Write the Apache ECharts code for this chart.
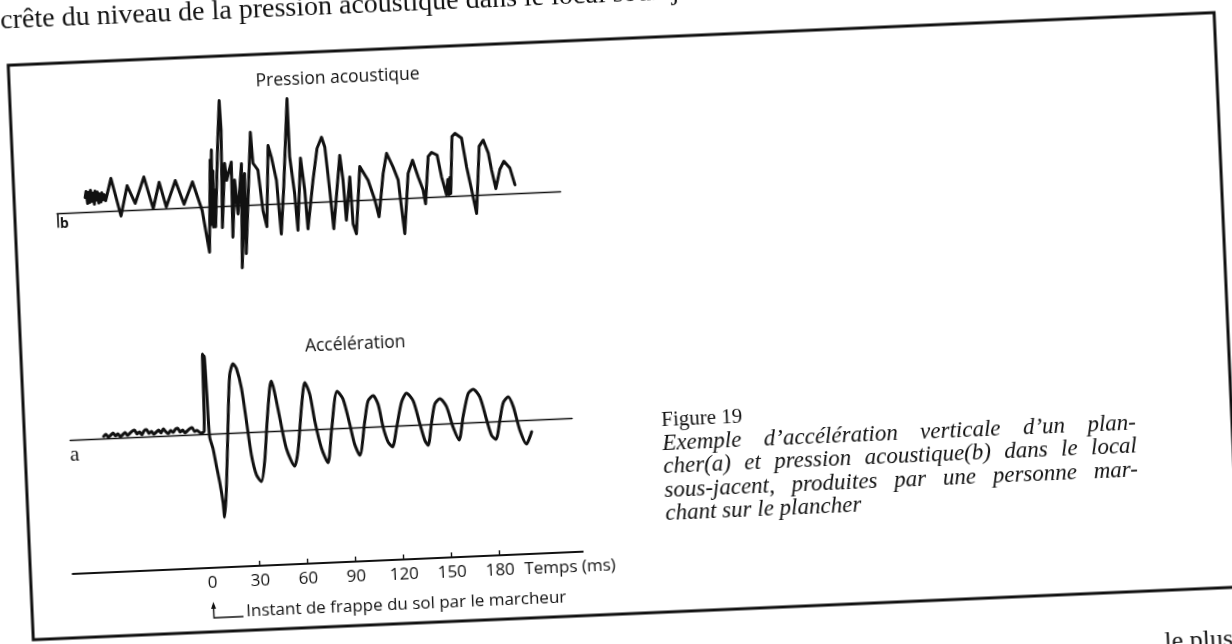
<!DOCTYPE html>
<html lang="fr">
<head>
<meta charset="utf-8">
<title>Figure 19</title>
<script src="https://cdn.jsdelivr.net/npm/echarts@6/dist/echarts.min.js"></script>
<style>
html,body{margin:0;padding:0;background:#fff;overflow:hidden;width:1232px;height:644px;}
#page{position:absolute;left:-100px;top:-80px;width:1432px;height:804px;transform-origin:716px 402px;transform:rotate(-2.5deg);}
</style>
</head>
<body>
<div id="page"></div>
<script>
// ---------- data ----------
// time in ms (0 = heel strike), amplitude in arbitrary units relative to each trace's baseline
const tickLabels = [0, 30, 60, 90, 120, 150, 180];
const tickMarks = [30, 60, 90, 120, 150, 180];

const pressureTime = [-69.0,-68.3,-67.6,-66.9,-66.2,-65.5,-64.8,-64.1,-63.4,-62.7,-62.0,-61.3,-60.6,-59.9,-59.2,-58.5,-57.8,-57.1,-56.3,
 -52.4,-47.1,-42.5,-37.9,-31.8,-26.8,-22.4,-18.6,-12.3,-7.4,-1.6,3.7,7.2,
 10.0,8.6,11.1,9.8,11.5,10.4,12.0,11.7,
 15.3,17.3,18.1,17.7,15.9,
 19.0,19.8,23.2,22.2,
 24.8,26.0,29.5,27.2,
 31.2,30.1,35.9,
 36.7,39.6,41.7,43.7,
 46.6,48.4,50.9,52.5,
 55.3,59.7,59.8,61.9,63.0,
 66.5,68.3,69.3,
 73.7,77.1,80.2,82.0,83.9,85.4,
 91.1,92.5,93.5,96.8,97.6,99.4,
 103.3,108.1,111.8,114.0,
 117.7,120.4,124.1,126.9,129.6,
 133.3,136.4,139.5,142.2,143.4,
 146.3,148.5,151.9,154.1,156.7,157.9,158.2,159.2,159.4,
 161.7,163.6,167.6,170.0,172.5,175.0,
 178.4,181.1,183.9,185.5,187.7,
 190.7,193.4,197.0,199.7];
const pressureValue = [15,21,9,20,10,22,11,19,8,21,12,20,9,18,10,19,12,17,11,
 33,-5,25,7,33,1,27,2,28,4,26,-3,-45,
 47,-18,57,-8,36,-20,17,-20,
 66,106,108,76,-21,
 43,26,44,-31,
 26,-8,42,-62,
 32,-48,73,
 42,35,-6,-22,
 59,47,24,-30,
 17,105,47,10,-27,
 45,13,-26,
 22,54,65,55,12,-27,
 46,21,-19,24,-23,-33,
 34,20,0,-17,
 26,46,32,19,-35,
 25,38,21,8,-6,
 41,45,42,20,2,17,2,19,3,
 60,63,58,29,6,-18,
 49,55,42,25,6,
 25,33,26,9];

const accelTime = [-64,-62.5,-61,-59.5,-58,-56.5,-55,-53.5,-52,-50.5,-49,-47.5,-46,-44.5,-43,-41.5,-40,-38.5,-37,-35.5,-34,-32.5,-31,-29.5,-28,-26.5,-25,-23.5,-22,-20.5,-19,-17.5,-16,-14.5,-13,-11.5,-10,-8.5,-7,-5.5,-4,-2.9,
 -1.0,0.0,0.6,1.0,1.6,2.2,
 4.0,5.6,7.3,8.8,9.4,11.3,
 14.1,16.4,18.8,20.8,23.4,25.6,27.8,30.4,33.3,35.9,
 38.5,41.0,42.3,44.0,46.5,49.8,54.5,57.0,60.3,63.1,
 65.9,68.3,71.7,75.4,78.4,83.0,86.5,90.1,92.6,95.5,
 99.5,102.1,105.4,108.3,110.8,113.5,116.1,119.2,122.9,126.3,
 130.3,133.8,136.5,138.4,141.1,143.7,147.0,150.9,154.5,157.9,
 161.0,164.8,168.0,172.0,175.6,178.3,180.9,183.9,186.4,189.7,
 192.6,196.1,199.9,202.2,203.4];
const accelValue = [2,4,1,3,5,2,4,1,3,5,2,4,6,7,3,5,2,6,7,3,5,2,4,6,3,7,4,2,5,3,6,7,3,5,2,4,6,7,3,4,2,1,
 3,80,62,78,40,-3,
 -15,-32,-49,-69,-84,-55,
 11,58,69,64,44,11,-23,-43,-50,-30,
 10,43,50,38,13,-18,-36,-21,22,47,
 35,8,-19,-34,-3,37,29,3,-17,-28,
 6,26,31,22,-1,-16,-21,-2,23,32,
 24,1,-16,-21,1,20,25,17,-4,-17,
 6,29,33,25,2,-14,-18,1,18,24,
 14,-10,-24,-17,-12];

const headLine = 'crête du niveau de la pression acoustique dans le local sous-jacent';
const titlePressure = 'Pression acoustique';
const titleAccel = 'Accélération';
const labelPressure = 'b';
const labelAccel = 'a';
const axisName = 'Temps (ms)';
const strikeNote = 'Instant de frappe du sol par le marcheur';
const captionTitle = 'Figure 19';
const captionLines = [
  'Exemple d’accélération verticale d’un plan-',
  'cher(a) et pression acoustique(b) dans le local',
  'sous-jacent, produites par une personne mar-',
  'chant sur le plancher'
];
const footLine = 'le plus';

// ---------- layout ----------
const INK = '#111';
const OX = 100, OY = 80;          // page offset inside the (rotated) sheet
const MS = 1.6;                   // px per ms
const ZERO_U = 201.5;             // horizontal position of t = 0
const tx = t => OX + ZERO_U + MS * t;

const P_RANGE = [-87, 228], A_RANGE = [-85, 229], T_RANGE = [-87, 232];
const P_Y = [-80, 120], A_Y = [-100, 100];
const P_BASE = 189.5, A_BASE = 416, T_LINE = 550;

function grid(tr, yr, base) {
  return { left: tx(tr[0]), width: MS * (tr[1] - tr[0]), top: OY + base - yr[1], height: yr[1] - yr[0],
           containLabel: false, outerBoundsMode: 'none' };
}
const zip = (a, b) => a.slice(0, Math.min(a.length, b.length)).map((v, i) => [v, b[i]]);

const SANS = 'Open Sans', SERIF = 'Liberation Serif';

const chart = echarts.init(document.getElementById('page'), null, { renderer: 'canvas' });

const hiddenX = (idx, r) => ({
  type: 'value', gridIndex: idx, min: r[0], max: r[1],
  axisLine: { show: true, onZero: true, lineStyle: { color: INK, width: 1.4 } },
  axisTick: { show: false }, axisLabel: { show: false }, splitLine: { show: false }
});

// graphic elements (frame and texts)
const g = [];
g.push({ type: 'rect', shape: { x: OX + 20, y: OY + 39, width: 1207, height: 575 },
         style: { fill: 'none', stroke: INK, lineWidth: 3 }, silent: true });
g.push({ type: 'text', x: OX + 14, y: OY + 4.5, rotation: 0,
         style: { text: headLine, x: 0, y: -9.5, fontFamily: SERIF, fontSize: 28, fill: INK, verticalAlign: 'middle' } });
g.push({ type: 'text', x: OX + 348.6, y: OY + 66,
         style: { text: titlePressure, fontFamily: SANS, fontSize: 17.5, fill: INK, align: 'center', verticalAlign: 'middle' } });
g.push({ type: 'text', x: OX + 354.5, y: OY + 332.6,
         style: { text: titleAccel, fontFamily: SANS, fontSize: 17.5, fill: INK, align: 'center', verticalAlign: 'middle' } });
g.push({ type: 'text', x: tx(P_RANGE[0]) + 7, y: OY + P_BASE + 11,
         style: { text: labelPressure, fontFamily: SANS, fontWeight: 'bold', fontSize: 14, fill: INK, align: 'center', verticalAlign: 'middle' } });
g.push({ type: 'text', x: tx(A_RANGE[0]) + 4, y: OY + A_BASE + 15,
         style: { text: labelAccel, fontFamily: SERIF, fontSize: 21, fill: INK, align: 'center', verticalAlign: 'middle' } });
g.push({ type: 'text', x: tx(T_RANGE[1]) - 59, y: OY + T_LINE + 15,
         style: { text: axisName, fontFamily: SANS, fontSize: 17, fill: INK, verticalAlign: 'middle' } });
// strike note with its hooked arrow
const x0 = tx(0);
g.push({ type: 'polyline', shape: { points: [[x0, OY + 587], [x0, OY + 600], [OX + 231, OY + 600]] },
         style: { stroke: INK, lineWidth: 1.4, fill: 'none' } });
g.push({ type: 'polygon', shape: { points: [[x0 - 2.5, OY + 591], [x0, OY + 584], [x0 + 2.5, OY + 591]] },
         style: { fill: INK } });
g.push({ type: 'text', x: OX + 234, y: OY + 595,
         style: { text: strikeNote, fontFamily: SANS, fontSize: 17, fill: INK, verticalAlign: 'middle' } });

// caption (justified like the printed block)
const ctx = document.createElement('canvas').getContext('2d');
const capSize = 23, capLeft = OX + 657, capWidth = 474, capLead = 23.5, capTop = OY + 422;
function width(s, font) { ctx.font = font; return ctx.measureText(s).width; }
g.push({ type: 'text', x: capLeft, y: capTop,
         style: { text: captionTitle, fontFamily: SERIF, fontSize: 21, fill: INK, verticalAlign: 'middle' } });
captionLines.forEach((line, i) => {
  const y = capTop + (i + 1) * capLead;
  const font = 'italic ' + capSize + 'px "' + SERIF + '"';
  const st = { fontFamily: SERIF, fontStyle: 'italic', fontSize: capSize, fill: INK, verticalAlign: 'middle' };
  if (i === captionLines.length - 1) {
    g.push({ type: 'text', x: capLeft, y, style: Object.assign({ text: line }, st) });
    return;
  }
  const words = line.split(' ');
  const sum = words.reduce((s, w) => s + width(w, font), 0);
  const gap = (capWidth - sum) / (words.length - 1);
  let x = capLeft;
  words.forEach(w => {
    g.push({ type: 'text', x, y, style: Object.assign({ text: w }, st) });
    x += width(w, font) + gap;
  });
});
g.push({ type: 'text', x: OX + 1150, y: OY + 666,
         style: { text: footLine, fontFamily: SERIF, fontSize: 26, fill: INK, verticalAlign: 'middle' } });

const traceStyle = { color: INK, width: 3, join: 'round', cap: 'round' };

chart.setOption({
  animation: false,
  backgroundColor: '#fff',
  grid: [
    grid(P_RANGE, P_Y, P_BASE),
    grid(A_RANGE, A_Y, A_BASE),
    { left: tx(T_RANGE[0]), width: MS * (T_RANGE[1] - T_RANGE[0]), top: OY + T_LINE - 30, height: 30,
      containLabel: false, outerBoundsMode: 'none' }
  ],
  xAxis: [
    hiddenX(0, P_RANGE),
    hiddenX(1, A_RANGE),
    {
      type: 'value', gridIndex: 2, min: T_RANGE[0], max: T_RANGE[1], position: 'bottom',
      axisLine: { show: true, onZero: false, lineStyle: { color: INK, width: 2.2 } },
      axisTick: { show: true, inside: true, length: 5, customValues: tickMarks, lineStyle: { color: INK, width: 1.4 } },
      axisLabel: { show: true, customValues: tickLabels, margin: 7, color: INK, fontFamily: SANS, fontSize: 17 },
      splitLine: { show: false }
    }
  ],
  yAxis: [
    { type: 'value', gridIndex: 0, min: P_Y[0], max: P_Y[1], show: false },
    { type: 'value', gridIndex: 1, min: A_Y[0], max: A_Y[1], show: false },
    { type: 'value', gridIndex: 2, min: 0, max: 1, show: false }
  ],
  series: [
    {
      name: titlePressure, type: 'line', xAxisIndex: 0, yAxisIndex: 0,
      data: zip(pressureTime, pressureValue), symbol: 'none', silent: true, clip: false,
      lineStyle: traceStyle,
      markLine: { silent: true, symbol: 'none', label: { show: false },
        lineStyle: { color: INK, width: 1.6, type: 'solid' },
        data: [[{ coord: [P_RANGE[0], 0] }, { coord: [P_RANGE[0], -14] }]] }
    },
    {
      name: titleAccel, type: 'line', xAxisIndex: 1, yAxisIndex: 1,
      data: zip(accelTime, accelValue), symbol: 'none', silent: true, clip: false, smooth: 0.25,
      lineStyle: traceStyle
    }
  ],
  graphic: { elements: g }
});
</script>
</body>
</html>
